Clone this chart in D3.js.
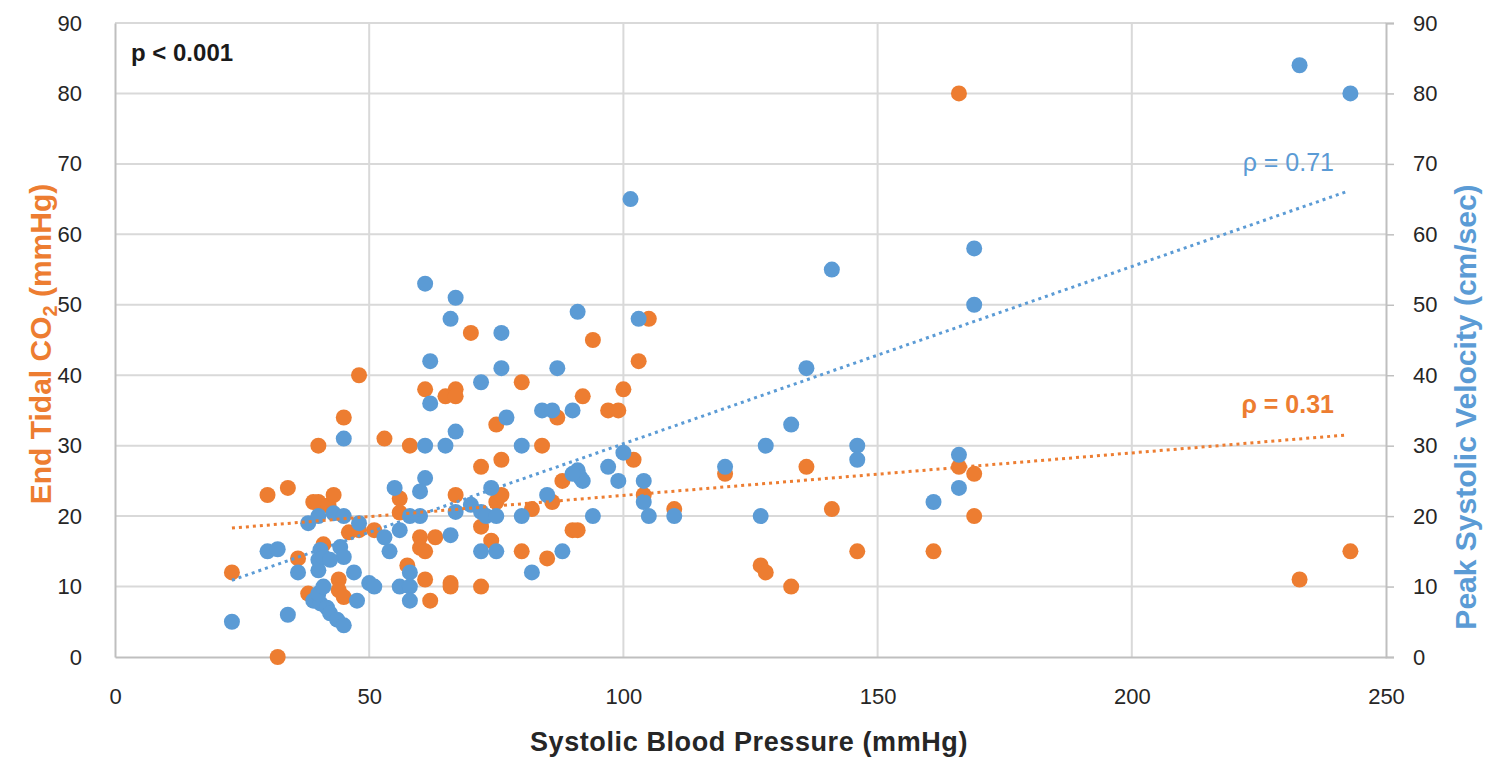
<!DOCTYPE html>
<html>
<head>
<meta charset="utf-8">
<script src="https://cdn.jsdelivr.net/npm/d3@7"></script>
<style>
  html, body { margin: 0; padding: 0; background: #fff; }
  svg { display: block; }
  text { font-family: "Liberation Sans", Arial, sans-serif; }
</style>
</head>
<body>
<svg id="chart" width="1489" height="757"></svg>
<script>
// ---- Data ----
const xTicks = [0, 50, 100, 150, 200, 250];
const yTicks = [0, 10, 20, 30, 40, 50, 60, 70, 80, 90];

// End Tidal CO2 (mmHg) vs Systolic BP
const etco2 = [
  [23,12],[30,23],[34,24],[32,0],[36,14],
  [40,30],[45,34],[48,40],[53,31],[58,30],
  [39,22],[40,22],[42,21.5],[43,23],[38,9],[41,16],[44,11],[44,9.5],[45,8.5],[46,17.7],[48,18],[51,18],
  [56,22.5],[56,20.5],[60,17],[63,17],[60,15.5],[61,15],[57.5,13],[61,11],[62,8],[66,10.5],[66,10],[72,10],
  [67,23],[72,27],[76,28],[75,22],[76,23],[72,18.5],[74,16.5],[80,15],[82,21],[85,14],[84,30],
  [61,38],[65,37],[67,38],[67,37],[70,46],[80,39],[75,33],
  [87,34],[92,37],[94,45],[97,35],[99,35],[100,38],[103,42],[102,28],[105,48],
  [88,25],[86,22],[90,18],[91,18],[104,23],[110,21],
  [120,26],[127,13],[128,12],[133,10],[136,27],[141,21],[146,15],[161,15],[166,27],[169,26],[169,20],
  [166,80],[233,11],[243,15]
];

// Peak Systolic Velocity (cm/sec) vs Systolic BP
const psv = [
  [23,5],[30,15],[32,15.3],[34,6],[36,12],
  [38,19],[40,20],[43,20.4],[45,20],[48,19],
  [40.4,15.2],[40,13.8],[40,12.3],[41,14.2],[44.3,15.6],[45,14.2],[42.3,13.8],[47,12],[50,10.5],[51,10],
  [39,8],[40.4,7.6],[41.7,7],[42.3,6.2],[43.7,5.3],[45,4.5],[47.6,8],[40,9],[41,10],
  [45,31],
  [53,17],[54,15],[56,18],[55,24],[61,25.4],[60,23.5],[58,20],[60,20],[56,10],[58,12],[58,10],[58,8],
  [66,17.3],[67,20.6],[70,21.6],[72,20.6],[74,24],[73,20],[75,20],[72,15],[75,15],[80,20],[82,12],[85,23],[88,15],[80,30],
  [61,53],[67,51],[66,48],[76,46],[62,42],[76,41],[72,39],[62,36],[77,34],[67,32],[61,30],[65,30],
  [84,35],[86,35],[90,35],[87,41],[91,49],[103,48],[101.4,65],
  [100,29],[97,27],[91,26.5],[91.5,25.5],[92,25],[90,26],[99,25],[104,25],[104,22],[105,20],[110,20],[94,20],
  [120,27],[127,20],[128,30],[133,33],[136,41],[141,55],[146,30],[146,28],[161,22],[166,28.7],[166,24],
  [169,58],[169,50],[233,84],[243,80]
];

// Linear trend lines (end points)
const trendEtco2 = [[23,18.3],[242,31.5]];
const trendPsv = [[23,10.9],[242,66]];

const labelEtco2 = "ρ = 0.31";
const labelPsv = "ρ = 0.71";
const pLabel = "p < 0.001";

// ---- Chart ----
const ORANGE = "#ED7D31", BLUE = "#5B9BD5";
const svg = d3.select("#chart");
const L = 115, R = 1386, T = 23, B = 657;

const x = d3.scaleLinear().domain([0, 250]).range([L, R]);
const y = d3.scaleLinear().domain([0, 90]).range([B, T]);
const y2 = d3.scaleLinear().domain([0, 90]).range([B, T]);

// gridlines
const grid = svg.append("g");
grid.selectAll("line.h").data(yTicks.filter(d => d > 0)).join("line")
  .attr("x1", L).attr("x2", R).attr("y1", d => y(d)).attr("y2", d => y(d))
  .attr("stroke", "#d9d9d9").attr("stroke-width", 2);
grid.selectAll("line.v").data(xTicks.filter(d => d > 0 && d < 250)).join("line")
  .attr("y1", T).attr("y2", B).attr("x1", d => x(d)).attr("x2", d => x(d))
  .attr("stroke", "#d9d9d9").attr("stroke-width", 2);

// axes
const xAxis = svg.append("g").attr("transform", `translate(0,${B})`)
  .call(d3.axisBottom(x).tickValues(xTicks).tickSize(0).tickPadding(31));
const yAxis = svg.append("g").attr("transform", `translate(${L},0)`)
  .call(d3.axisLeft(y).tickValues(yTicks).tickSize(0).tickPadding(33));
const yAxis2 = svg.append("g").attr("transform", `translate(${R},0)`)
  .call(d3.axisRight(y2).tickValues(yTicks).tickSize(8).tickPadding(19));

[xAxis, yAxis, yAxis2].forEach(g => {
  g.select(".domain").attr("stroke", "#bfbfbf").attr("stroke-width", 2);
  g.selectAll(".tick line").attr("stroke", "#bfbfbf").attr("stroke-width", 1.5);
  g.selectAll(".tick text").attr("font-size", 22).attr("fill", "#262626")
    .attr("font-family", "'Liberation Sans', Arial, sans-serif");
});

// points
svg.append("g").selectAll("circle").data(etco2).join("circle")
  .attr("cx", d => x(d[0])).attr("cy", d => y(d[1])).attr("r", 8)
  .attr("fill", ORANGE);
svg.append("g").selectAll("circle").data(psv).join("circle")
  .attr("cx", d => x(d[0])).attr("cy", d => y2(d[1])).attr("r", 8)
  .attr("fill", BLUE);

// trend lines
const line1 = d3.line().x(d => x(d[0])).y(d => y(d[1]));
const line2 = d3.line().x(d => x(d[0])).y(d => y2(d[1]));
svg.append("path").attr("d", line1(trendEtco2)).attr("fill", "none")
  .attr("stroke", ORANGE).attr("stroke-width", 3).attr("stroke-dasharray", "3,4");
svg.append("path").attr("d", line2(trendPsv)).attr("fill", "none")
  .attr("stroke", BLUE).attr("stroke-width", 3).attr("stroke-dasharray", "3,4");

// labels
svg.append("text").attr("x", 131).attr("y", 61).attr("font-size", 24)
  .attr("font-weight", "bold").attr("fill", "#1a1a1a").text(pLabel);
svg.append("text").attr("x", 1334).attr("y", 171).attr("text-anchor", "end")
  .attr("font-size", 25).attr("fill", BLUE).text(labelPsv);
svg.append("text").attr("x", 1334).attr("y", 413).attr("text-anchor", "end")
  .attr("font-size", 25).attr("font-weight", "bold").attr("fill", ORANGE).text(labelEtco2);

// axis titles
svg.append("text").attr("x", 749).attr("y", 751).attr("text-anchor", "middle")
  .attr("font-size", 27).attr("font-weight", "bold").attr("fill", "#262626")
  .attr("letter-spacing", 0.6)
  .text("Systolic Blood Pressure (mmHg)");

const lt = svg.append("text").attr("transform", `translate(51,344) rotate(-90)`)
  .attr("text-anchor", "middle").attr("font-size", 30).attr("font-weight", "bold").attr("fill", ORANGE);
lt.append("tspan").text("End Tidal CO");
lt.append("tspan").attr("font-size", 20).attr("dy", 6).text("2");
lt.append("tspan").attr("dy", -6).text(" (mmHg)");

svg.append("text").attr("transform", `translate(1476,407) rotate(-90)`)
  .attr("text-anchor", "middle").attr("font-size", 30).attr("font-weight", "bold").attr("fill", BLUE)
  .text("Peak Systolic Velocity (cm/sec)");
</script>
</body>
</html>
